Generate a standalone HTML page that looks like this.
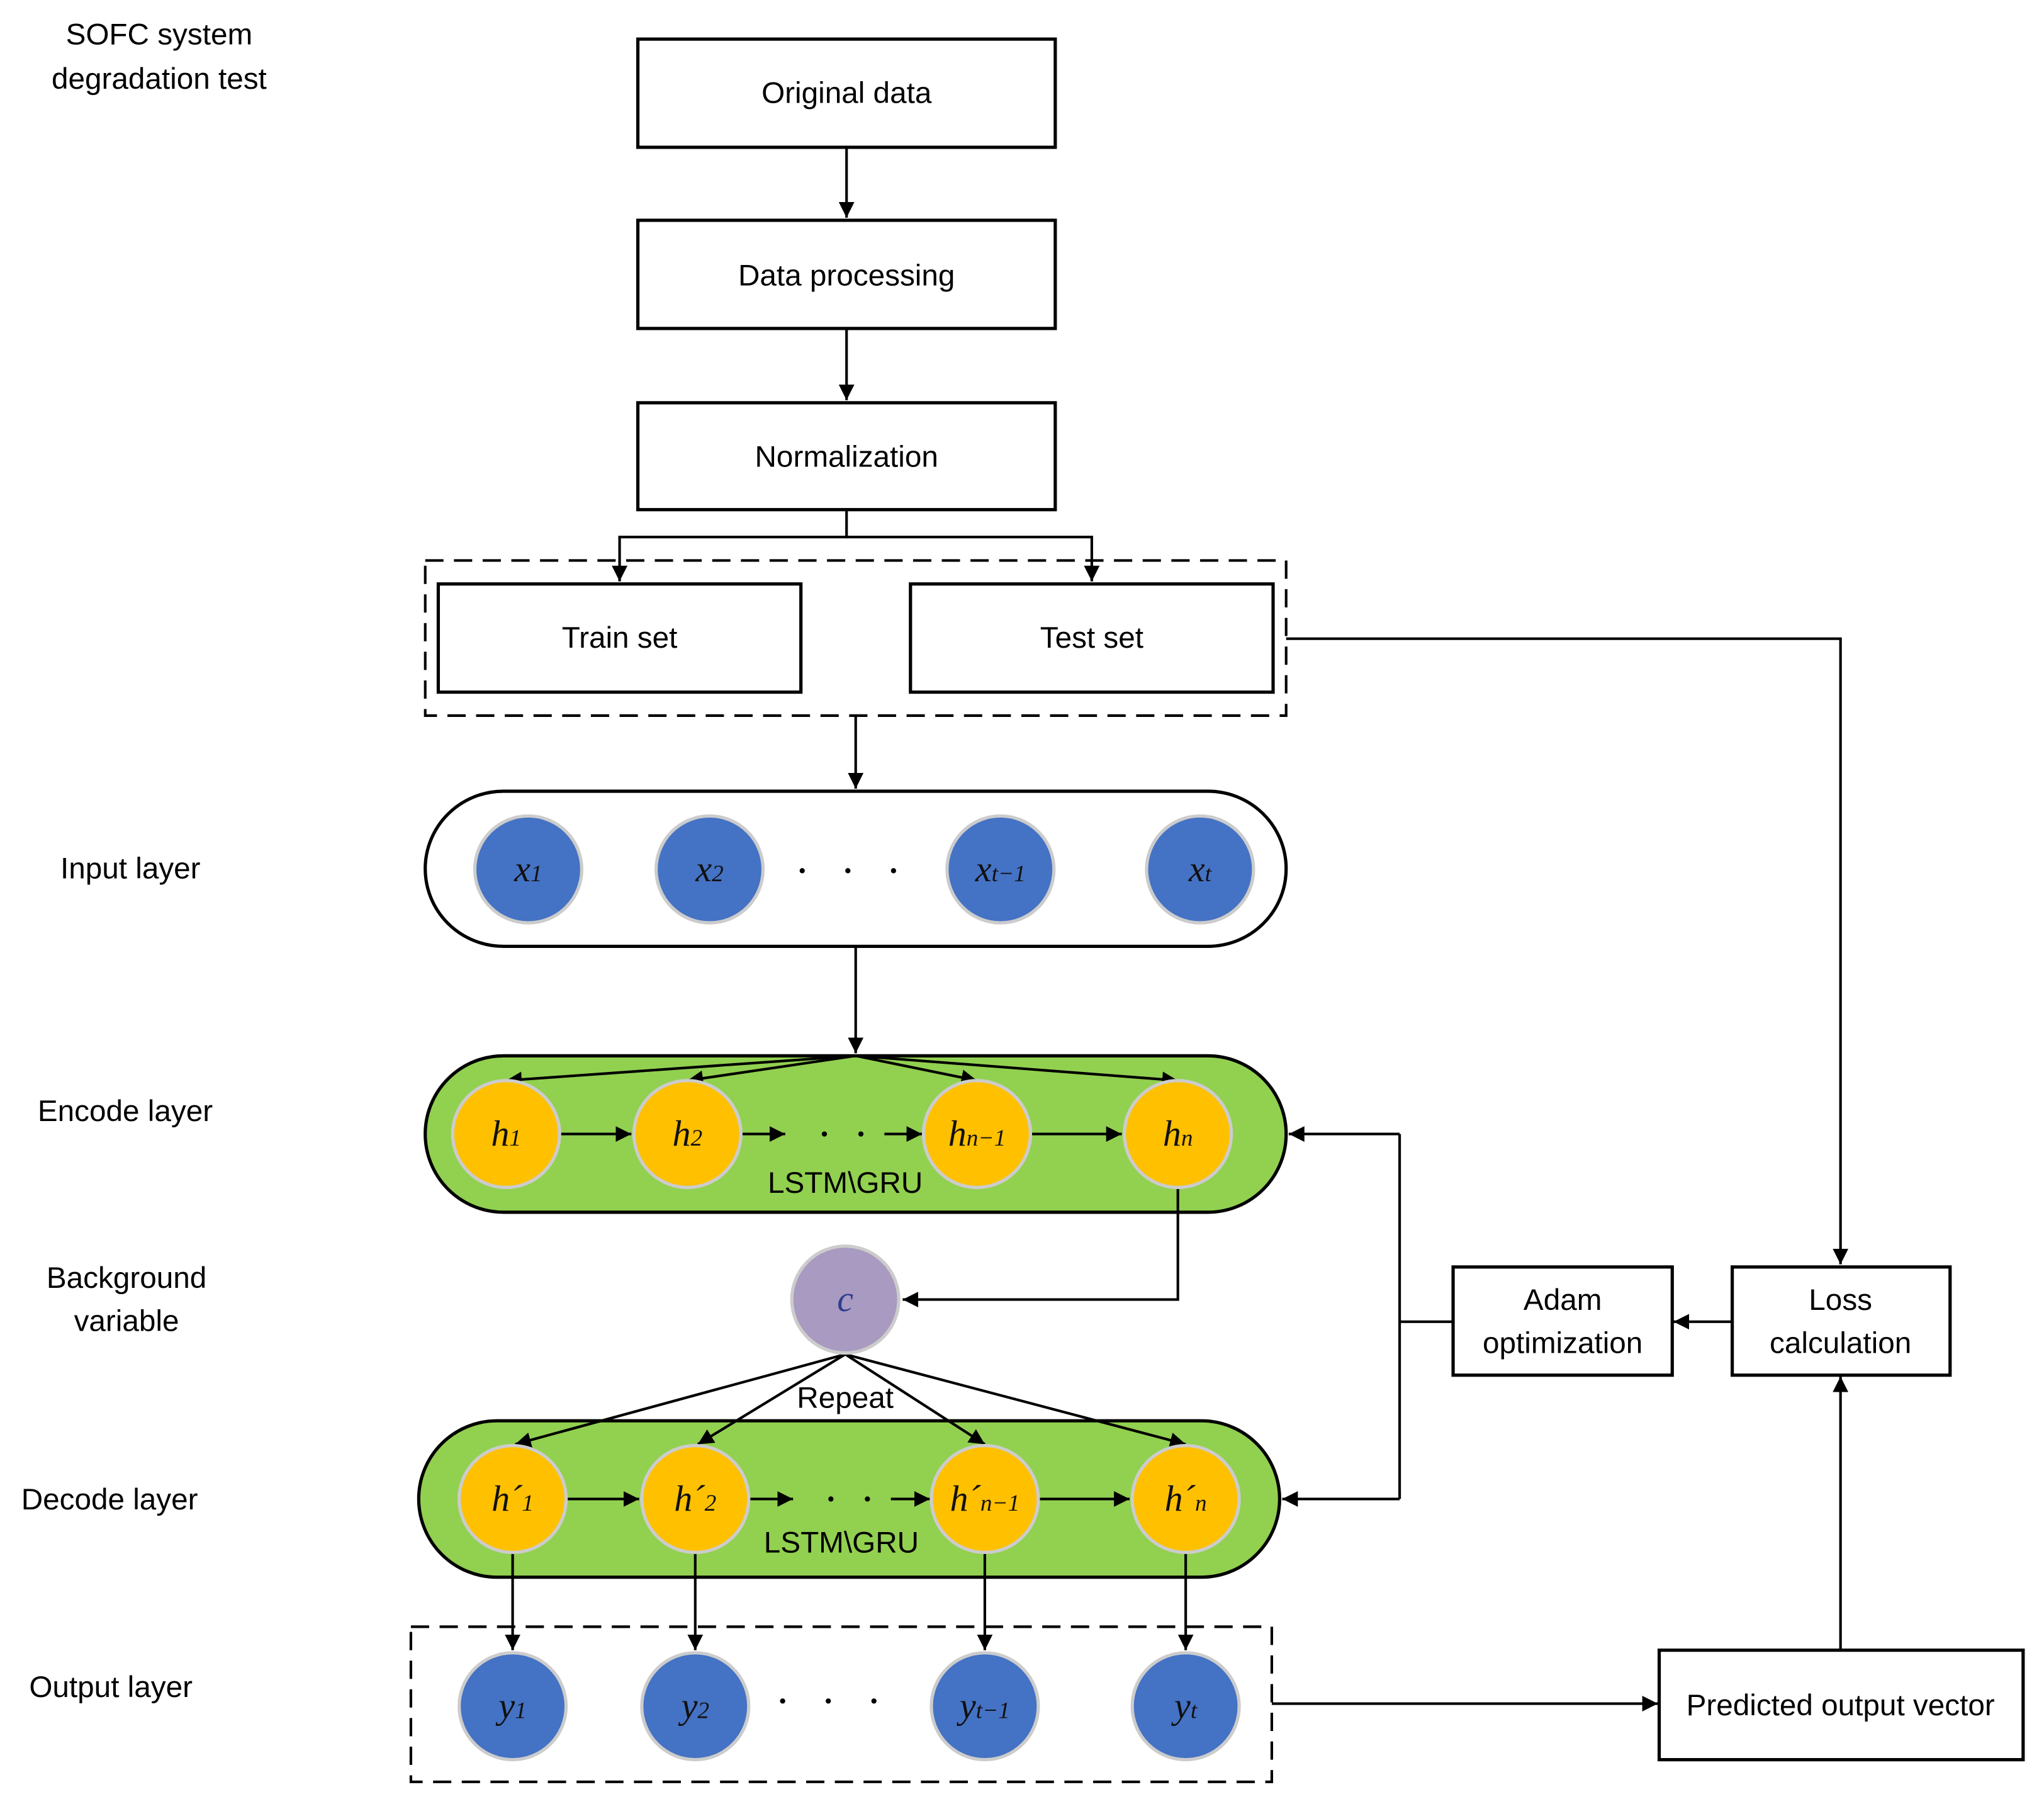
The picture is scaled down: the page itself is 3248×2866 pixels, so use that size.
<!DOCTYPE html>
<html><head><meta charset="utf-8"><style>html,body{margin:0;padding:0;background:#fff}svg{display:block}</style></head>
<body>
<svg width="3248" height="2866" viewBox="0 0 1567 1384" preserveAspectRatio="none" xmlns="http://www.w3.org/2000/svg">
<defs><marker id="b" viewBox="0 0 10 10" refX="10" refY="5" markerWidth="12" markerHeight="12" markerUnits="userSpaceOnUse" orient="auto"><path d="M0,0L10,5L0,10z" fill="#000"/></marker></defs>
<g font-family="Liberation Sans, sans-serif" font-size="23" fill="#000">
<text x="122" y="34" text-anchor="middle">SOFC system</text>
<text x="122" y="68" text-anchor="middle">degradation test</text>
<text x="100" y="674" text-anchor="middle">Input layer</text>
<text x="96" y="860" text-anchor="middle">Encode layer</text>
<text x="97" y="988" text-anchor="middle">Background</text>
<text x="97" y="1021" text-anchor="middle">variable</text>
<text x="84" y="1158" text-anchor="middle">Decode layer</text>
<text x="85" y="1302" text-anchor="middle">Output layer</text>
</g>
<g fill="#fff" stroke="#000" stroke-width="2.5">
<rect x="489" y="30" width="320" height="83"/>
<rect x="489" y="169" width="320" height="83"/>
<rect x="489" y="309" width="320" height="82"/>
<rect x="336" y="448" width="278" height="83"/>
<rect x="698" y="448" width="278" height="83"/>
<rect x="1114" y="972" width="168" height="83"/>
<rect x="1328" y="972" width="167" height="83"/>
<rect x="1272" y="1266" width="279" height="84"/>
</g>
<g fill="none" stroke="#000" stroke-width="2" stroke-dasharray="14,8">
<rect x="326" y="430" width="660" height="119"/>
<rect x="315" y="1248" width="660" height="119"/>
</g>
<rect x="326" y="607" width="660" height="119" rx="60" fill="#fff" stroke="#000" stroke-width="2.5"/>
<rect x="326" y="810" width="660" height="120" rx="60" fill="#92d050" stroke="#000" stroke-width="2.5"/>
<rect x="321" y="1090" width="660" height="120" rx="60" fill="#92d050" stroke="#000" stroke-width="2.5"/>
<g font-family="Liberation Sans, sans-serif" font-size="23" text-anchor="middle">
<text x="649" y="79">Original data</text>
<text x="649" y="219">Data processing</text>
<text x="649" y="358">Normalization</text>
<text x="475" y="497">Train set</text>
<text x="837" y="497">Test set</text>
<text x="1198" y="1005">Adam</text>
<text x="1198" y="1038">optimization</text>
<text x="1411" y="1005">Loss</text>
<text x="1411" y="1038">calculation</text>
<text x="1411" y="1316">Predicted output vector</text>
<text x="648" y="915">LSTM\GRU</text>
<text x="645" y="1191">LSTM\GRU</text>
<text x="648" y="1080">Repeat</text>
</g>
<g stroke="#000" stroke-width="2" fill="none">
<line x1="649" y1="113" x2="649" y2="167" marker-end="url(#b)"/>
<line x1="649" y1="252" x2="649" y2="307" marker-end="url(#b)"/>
<path d="M649 391V412H475V446" marker-end="url(#b)"/>
<path d="M649 412H837V446" marker-end="url(#b)"/>
<line x1="656" y1="549" x2="656" y2="605" marker-end="url(#b)"/>
<line x1="656" y1="726" x2="656" y2="808" marker-end="url(#b)"/>
<line x1="656" y1="810" x2="388" y2="829" marker-end="url(#b)"/>
<line x1="656" y1="810" x2="527" y2="829" marker-end="url(#b)"/>
<line x1="656" y1="810" x2="749" y2="829" marker-end="url(#b)"/>
<line x1="656" y1="810" x2="903" y2="829" marker-end="url(#b)"/>
<line x1="430" y1="870" x2="484" y2="870" marker-end="url(#b)"/>
<line x1="569" y1="870" x2="602" y2="870" marker-end="url(#b)"/>
<line x1="678" y1="870" x2="707" y2="870" marker-end="url(#b)"/>
<line x1="791" y1="870" x2="860" y2="870" marker-end="url(#b)"/>
<path d="M903 911V997H692" marker-end="url(#b)"/>
<line x1="648" y1="1039" x2="395" y2="1108" marker-end="url(#b)"/>
<line x1="648" y1="1039" x2="535" y2="1108" marker-end="url(#b)"/>
<line x1="648" y1="1039" x2="755" y2="1108" marker-end="url(#b)"/>
<line x1="648" y1="1039" x2="909" y2="1108" marker-end="url(#b)"/>
<line x1="435" y1="1150" x2="490" y2="1150" marker-end="url(#b)"/>
<line x1="575" y1="1150" x2="608" y2="1150" marker-end="url(#b)"/>
<line x1="683" y1="1150" x2="713" y2="1150" marker-end="url(#b)"/>
<line x1="797" y1="1150" x2="866" y2="1150" marker-end="url(#b)"/>
<line x1="393" y1="1192" x2="393" y2="1266" marker-end="url(#b)"/>
<line x1="533" y1="1192" x2="533" y2="1266" marker-end="url(#b)"/>
<line x1="755" y1="1192" x2="755" y2="1266" marker-end="url(#b)"/>
<line x1="909" y1="1192" x2="909" y2="1266" marker-end="url(#b)"/>
<line x1="975" y1="1307" x2="1271" y2="1307" marker-end="url(#b)"/>
<line x1="1411" y1="1266" x2="1411" y2="1056" marker-end="url(#b)"/>
<line x1="1328" y1="1014" x2="1283" y2="1014" marker-end="url(#b)"/>
<path d="M986 490H1411V970" marker-end="url(#b)"/>
<line x1="1114" y1="1014" x2="1073" y2="1014"/>
<line x1="1073" y1="870" x2="1073" y2="1150"/>
<line x1="1073" y1="870" x2="988" y2="870" marker-end="url(#b)"/>
<line x1="1073" y1="1150" x2="983" y2="1150" marker-end="url(#b)"/>
</g>
<g fill="#000"><circle cx="615" cy="668" r="2"/><circle cx="650" cy="668" r="2"/><circle cx="685" cy="668" r="2"/>
<circle cx="632" cy="870" r="2"/><circle cx="660" cy="870" r="2"/><circle cx="637" cy="1150" r="2"/><circle cx="665" cy="1150" r="2"/>
<circle cx="600" cy="1305" r="2"/><circle cx="635" cy="1305" r="2"/><circle cx="670" cy="1305" r="2"/></g>
<g stroke="#ccc" stroke-width="2.5">
<g fill="#4472c4"><circle cx="405" cy="667" r="41"/><circle cx="544" cy="667" r="41"/><circle cx="767" cy="667" r="41"/><circle cx="920" cy="667" r="41"/>
<circle cx="393" cy="1309" r="41"/><circle cx="533" cy="1309" r="41"/><circle cx="755" cy="1309" r="41"/><circle cx="909" cy="1309" r="41"/></g>
<g fill="#ffc000"><circle cx="388" cy="870" r="41"/><circle cx="527" cy="870" r="41"/><circle cx="749" cy="870" r="41"/><circle cx="903" cy="870" r="41"/>
<circle cx="393" cy="1150" r="41"/><circle cx="533" cy="1150" r="41"/><circle cx="755" cy="1150" r="41"/><circle cx="909" cy="1150" r="41"/></g>
<circle cx="648" cy="997" r="41" fill="#a89ac0"/>
</g>
<g font-family="Liberation Serif, serif" font-style="italic" font-size="28" text-anchor="middle" fill="#111">
<text x="405" y="676">x<tspan font-size="18">1</tspan></text>
<text x="544" y="676">x<tspan font-size="18">2</tspan></text>
<text x="767" y="676">x<tspan font-size="18">t−1</tspan></text>
<text x="920" y="676">x<tspan font-size="18">t</tspan></text>
<text x="388" y="879">h<tspan font-size="18">1</tspan></text>
<text x="527" y="879">h<tspan font-size="18">2</tspan></text>
<text x="749" y="879">h<tspan font-size="18">n−1</tspan></text>
<text x="903" y="879">h<tspan font-size="18">n</tspan></text>
<text x="393" y="1159">h´<tspan font-size="18">1</tspan></text>
<text x="533" y="1159">h´<tspan font-size="18">2</tspan></text>
<text x="755" y="1159">h´<tspan font-size="18">n−1</tspan></text>
<text x="909" y="1159">h´<tspan font-size="18">n</tspan></text>
<text x="393" y="1318">y<tspan font-size="18">1</tspan></text>
<text x="533" y="1318">y<tspan font-size="18">2</tspan></text>
<text x="755" y="1318">y<tspan font-size="18">t−1</tspan></text>
<text x="909" y="1318">y<tspan font-size="18">t</tspan></text>
<text x="648" y="1006" fill="#2f3f8f">c</text>
</g>
</svg>
</body></html>
